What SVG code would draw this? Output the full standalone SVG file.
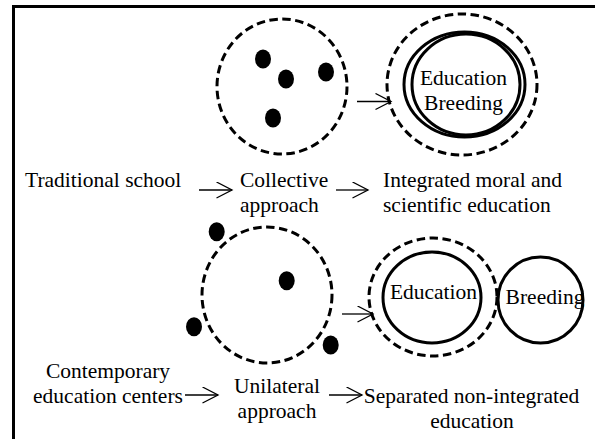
<svg xmlns="http://www.w3.org/2000/svg" width="595" height="439" viewBox="0 0 595 439">
<defs>
<style>
text{font-family:"Liberation Serif",serif;font-size:21.5px;fill:#000}
.m{text-anchor:middle}
.d{fill:none;stroke:#000;stroke-width:3;stroke-dasharray:8.5 4.5}
.s{fill:none;stroke:#000;stroke-width:3}
.dot{fill:#000}
.a{fill:none;stroke:#000;stroke-width:1.3}
</style>
<marker id="ah" markerUnits="userSpaceOnUse" markerWidth="18" markerHeight="18" refX="16" refY="8.5" orient="auto" viewBox="0 0 18 18">
<path d="M0.5,0.5 L16,8.5 L0.5,16.5" fill="none" stroke="#000" stroke-width="1.3"/>
</marker>
</defs>
<rect width="595" height="439" fill="#fff"/>
<path d="M13.5,439 V6.5 H595" fill="none" stroke="#000" stroke-width="3"/>

<g id="collective-group">
<ellipse class="d" cx="282" cy="86.5" rx="65" ry="67.5"/>
<ellipse class="dot" cx="263" cy="59" rx="8" ry="9.5"/>
<ellipse class="dot" cx="286" cy="79" rx="8" ry="9.5"/>
<ellipse class="dot" cx="326" cy="72" rx="8" ry="9.5"/>
<ellipse class="dot" cx="273" cy="118" rx="8" ry="9.5"/>
</g>

<g id="integrated-circle">
<ellipse class="d" cx="462" cy="84.5" rx="75" ry="70.5"/>
<ellipse class="s" cx="464.5" cy="84.5" rx="60.5" ry="52.5"/>
<ellipse class="s" cx="466" cy="84.5" rx="54" ry="50.5"/>
<text class="m" x="463.5" y="85">Education</text>
<text class="m" x="463.5" y="110">Breeding</text>
</g>

<g id="unilateral-group">
<ellipse class="d" cx="267" cy="295" rx="65" ry="68"/>
<ellipse class="dot" cx="216.7" cy="231.7" rx="8" ry="9.5"/>
<ellipse class="dot" cx="286.7" cy="280.7" rx="8" ry="9.5"/>
<ellipse class="dot" cx="194" cy="326.7" rx="8" ry="9.5"/>
<ellipse class="dot" cx="330.7" cy="345" rx="8" ry="9.5"/>
</g>

<g id="separated-circles">
<ellipse class="d" cx="433" cy="297" rx="64" ry="59"/>
<ellipse class="s" cx="432" cy="297.5" rx="49" ry="45.5"/>
<text class="m" x="433.5" y="299">Education</text>
<ellipse class="s" cx="540.5" cy="300" rx="42.5" ry="43"/>
<text class="m" x="545" y="304">Breeding</text>
</g>

<g id="traditional-school"><text x="25" y="187">Traditional school</text></g>
<g id="collective-approach"><text x="240" y="187">Collective</text><text x="240" y="212">approach</text></g>
<g id="integrated-education"><text x="383" y="187">Integrated moral and</text><text x="383" y="212">scientific education</text></g>

<g id="contemporary-centers"><text class="m" x="108" y="378">Contemporary</text><text class="m" x="108" y="403">education centers</text></g>
<g id="unilateral-approach"><text class="m" x="277" y="393">Unilateral</text><text class="m" x="277" y="418">approach</text></g>
<g id="separated-education"><text class="m" x="471.5" y="403">Separated non-integrated</text><text class="m" x="472" y="428">education</text></g>

<g id="connectors">
<line class="a" x1="357" y1="101.5" x2="391" y2="101.5" marker-end="url(#ah)"/>
<line class="a" x1="342" y1="314" x2="373" y2="314" marker-end="url(#ah)"/>
<line class="a" x1="199" y1="190" x2="232" y2="190" marker-end="url(#ah)"/>
<line class="a" x1="336" y1="190" x2="368" y2="190" marker-end="url(#ah)"/>
<line class="a" x1="185" y1="395" x2="218" y2="395" marker-end="url(#ah)"/>
<line class="a" x1="329" y1="395" x2="362" y2="395" marker-end="url(#ah)"/>
</g>
</svg>
